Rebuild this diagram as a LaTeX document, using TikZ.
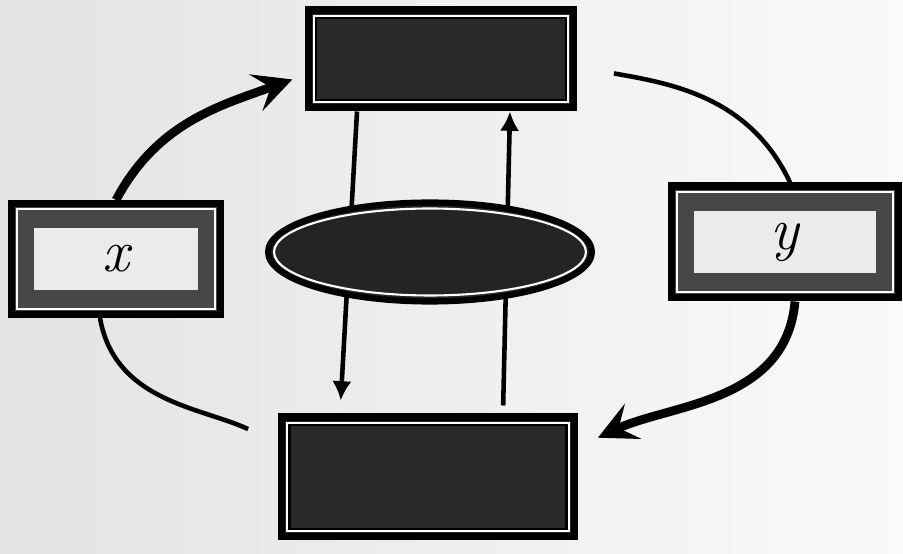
\documentclass[tikz,border=0pt]{standalone}
\usepackage{fontspec}
\usetikzlibrary{arrows.meta,shapes.geometric}

\begin{document}
\begin{tikzpicture}[x=0.02cm,y=0.02cm,
  darkbox/.style={draw=black,line width=4pt,fill=black!84,inner sep=0pt,
    path picture={
      \draw[white,line width=1.2pt] ([shift={(3.2pt,3.2pt)}]path picture bounding box.south west) rectangle ([shift={(-3.2pt,-3.2pt)}]path picture bounding box.north east);
      \draw[black,line width=1.5pt] ([shift={(4.6pt,4.6pt)}]path picture bounding box.south west) rectangle ([shift={(-4.6pt,-4.6pt)}]path picture bounding box.north east);}},
  lightbox/.style={draw=black,line width=4pt,fill=black!72,inner sep=0pt,
    font=\fontsize{34}{34}\selectfont\itshape,
    path picture={
      \draw[white,line width=1.2pt] ([shift={(3.2pt,3.2pt)}]path picture bounding box.south west) rectangle ([shift={(-3.2pt,-3.2pt)}]path picture bounding box.north east);
      \fill[black!8] ([shift={(13pt,14pt)}]path picture bounding box.south west) rectangle ([shift={(-13pt,-14pt)}]path picture bounding box.north east);}},
  darkoval/.style={ellipse,draw=black,line width=3.5pt,fill=black!86,inner sep=0pt,
    path picture={
      \draw[white,line width=1.2pt] (path picture bounding box.center) ellipse [x radius=3.12cm,y radius=0.87cm];}},
  thickarr/.style={line width=5pt,-{Stealth[length=22pt,width=22pt,inset=9pt]}},
  thinline/.style={line width=2.6pt},
  vertarr/.style={line width=2.6pt,-{Latex[length=11pt,width=11pt]}}]

% backdrop and frame
\useasboundingbox (0,0) rectangle (903,554);
\shade[left color=black!11,right color=black!2] (0,0) rectangle (903,554);

% boxes
\node[darkbox,minimum width=5.32cm,minimum height=1.96cm] (top) at (441,495) {};
\node[darkbox,minimum width=5.86cm,minimum height=2.40cm] (bot) at (428,77) {};
\node[lightbox,minimum width=4.20cm,minimum height=2.22cm] (left) at (116,295) {x};
\node[lightbox,minimum width=4.54cm,minimum height=2.24cm] (right) at (785,312) {y};

% outer cycle
\draw[thickarr,shorten >=0.26cm] (left.north) to[out=62,in=200] ([yshift=-0.32cm]top.west);
\draw[thinline,shorten >=0.66cm] ([xshift=-0.32cm]left.south) to[out=-80,in=155] ([yshift=0.68cm]bot.west);
\draw[thinline,shorten <=0.74cm] ([yshift=-0.16cm]top.east) to[out=-10,in=115] ([xshift=0.1cm]right.north);
\draw[thickarr,shorten >=0.44cm] ([xshift=0.2cm]right.south) to[out=-95,in=25] ([yshift=0.6cm]bot.east);

% links through the middle
\draw[vertarr,shorten >=0.26cm] ([xshift=-1.68cm]top.south) -- ([xshift=-1.76cm]bot.north);
\draw[vertarr,shorten <=0.16cm] ([xshift=1.5cm]bot.north) -- ([xshift=1.38cm]top.south);

\node[darkoval,minimum width=6.48cm,minimum height=1.98cm] (mid) at (430,302) {};
\end{tikzpicture}
\end{document}
